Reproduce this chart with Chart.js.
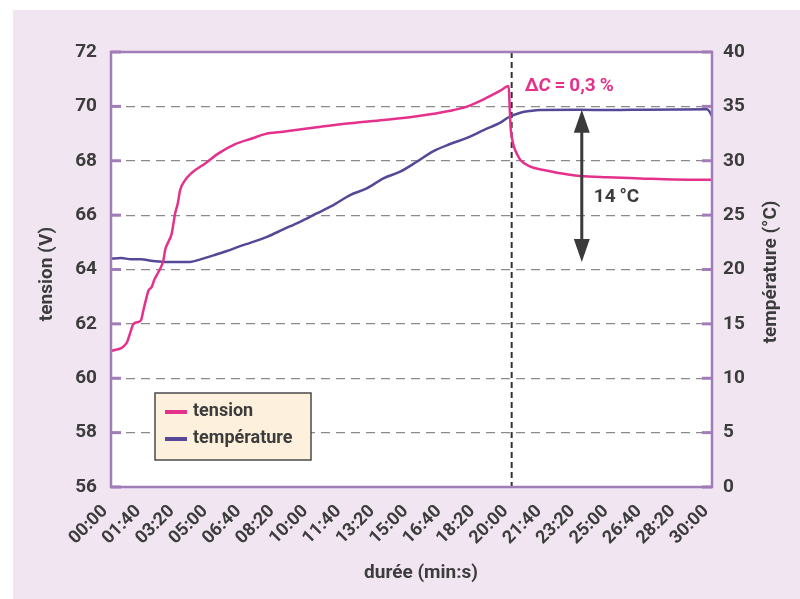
<!DOCTYPE html>
<html>
<head>
<meta charset="utf-8">
<script src="https://cdn.jsdelivr.net/npm/chart.js@4.4.1/dist/chart.umd.min.js"></script>
<style>
  html, body { margin: 0; padding: 0; background: #fff; }
  #bg { position: absolute; left: 13px; top: 10px; width: 787px; height: 589px; background: #f1e5f1; }
  #chart { position: absolute; left: 0; top: 0; }
</style>
</head>
<body>
<div id="bg"></div>
<canvas id="chart" width="800" height="599"></canvas>
<script>
// time in seconds, tension in V
const tensionTime = [0, 47, 57, 67, 82, 90, 97, 107, 112, 122, 130, 142, 157, 162, 172, 182, 187, 192, 200, 207,
  222, 242, 282, 322, 372, 422, 461, 516, 616, 716, 816, 916, 1016, 1066, 1116, 1166, 1191, 1194, 1197, 1200,
  1206, 1216, 1226, 1256, 1296, 1336, 1405, 1486, 1585, 1685, 1785, 1800];
const tensionValue = [61.0, 61.3, 61.65, 61.99, 62.07, 62.14, 62.5, 63.0, 63.22, 63.36, 63.63, 63.91, 64.34, 64.71, 65.02, 65.33, 65.69, 66.06, 66.43, 66.92,
  67.29, 67.56, 67.9, 68.27, 68.61, 68.82, 68.98, 69.07, 69.23, 69.38, 69.5, 69.64, 69.84, 69.99, 70.26, 70.58, 70.75, 70.0, 69.2, 68.9,
  68.55, 68.25, 68.03, 67.78, 67.66, 67.56, 67.44, 67.39, 67.35, 67.31, 67.3, 67.3];

// time in seconds, temperature in °C
const temperatureTime = [0, 30, 60, 90, 120, 160, 200, 237, 270, 307, 347, 387, 417, 467, 516, 566, 616, 666, 716, 766,
  816, 866, 916, 966, 1016, 1066, 1116, 1166, 1191, 1226, 1256, 1286, 1400, 1500, 1600, 1700, 1785, 1793, 1800];
const temperatureValue = [21.0, 21.05, 20.95, 20.95, 20.8, 20.7, 20.7, 20.7, 20.95, 21.3, 21.7, 22.15, 22.45, 23.0, 23.69, 24.39, 25.16, 25.92, 26.84, 27.46,
  28.38, 28.99, 29.91, 30.89, 31.54, 32.1, 32.82, 33.5, 34.0, 34.42, 34.58, 34.66, 34.68, 34.66, 34.7, 34.72, 34.73, 34.5, 34.1];

// annotations
const markerTime = 1200;
const arrowTime = 1410;
const arrowRange = [20.7, 34.7];
const arrowLabel = '14\u2009°C';
const labelTemp = 26.66;

const FONT = 'Roboto, "DejaVu Sans", sans-serif';
const TEXT = '#3c3c3c';
const PINK = '#e5318b';
const VIOLET = '#564897';
const FRAME = '#a07cb8';

function fmtTime(v) {
  const m = Math.floor(v / 60), s = Math.round(v % 60);
  return String(m).padStart(2, '0') + ':' + String(s).padStart(2, '0');
}

const decor = {
  id: 'decor',
  beforeDraw(chart) {
    const { ctx, chartArea: a } = chart;
    ctx.save();
    ctx.fillStyle = '#fff';
    ctx.fillRect(a.left, a.top, a.right - a.left, a.bottom - a.top);
    ctx.restore();
  },
  beforeDatasetsDraw(chart) {
    // dashed marker at 20:00
    const { ctx, chartArea: a, scales } = chart;
    const x = scales.x.getPixelForValue(markerTime);
    ctx.save();
    ctx.strokeStyle = '#333';
    ctx.lineWidth = 2;
    ctx.setLineDash([6, 4]);
    ctx.beginPath();
    ctx.moveTo(x, a.top);
    ctx.lineTo(x, a.bottom);
    ctx.stroke();
    ctx.restore();
  },
  afterDatasetsDraw(chart) {
    const { ctx, chartArea: a, scales } = chart;
    ctx.save();

    // frame
    ctx.strokeStyle = FRAME;
    ctx.lineWidth = 2.5;
    ctx.strokeRect(a.left, a.top, a.right - a.left, a.bottom - a.top);

    // tick stubs
    ctx.lineWidth = 3;
    scales.y.ticks.forEach(t => {
      const y = scales.y.getPixelForValue(t.value);
      ctx.beginPath(); ctx.moveTo(a.left, y); ctx.lineTo(a.left + 10, y); ctx.stroke();
    });
    scales.y1.ticks.forEach(t => {
      const y = scales.y1.getPixelForValue(t.value);
      ctx.beginPath(); ctx.moveTo(a.right - 10, y); ctx.lineTo(a.right, y); ctx.stroke();
    });

    // double arrow
    const ax = scales.x.getPixelForValue(arrowTime);
    const yTop = scales.y1.getPixelForValue(arrowRange[1]);
    const yBot = scales.y1.getPixelForValue(arrowRange[0]);
    ctx.strokeStyle = '#3a3a3a';
    ctx.fillStyle = '#3a3a3a';
    ctx.lineWidth = 3;
    ctx.beginPath(); ctx.moveTo(ax, yTop + 15); ctx.lineTo(ax, yBot - 15); ctx.stroke();
    ctx.beginPath(); ctx.moveTo(ax, yTop); ctx.lineTo(ax - 8, yTop + 23); ctx.lineTo(ax + 8, yTop + 23); ctx.closePath(); ctx.fill();
    ctx.beginPath(); ctx.moveTo(ax, yBot); ctx.lineTo(ax - 8, yBot - 23); ctx.lineTo(ax + 8, yBot - 23); ctx.closePath(); ctx.fill();

    ctx.font = 'bold 19px ' + FONT;
    ctx.fillStyle = TEXT;
    ctx.textAlign = 'left';
    ctx.textBaseline = 'middle';
    ctx.fillText(arrowLabel, ax + 12, scales.y1.getPixelForValue(labelTemp));

    // ΔC label
    let tx = scales.x.getPixelForValue(markerTime) + 13;
    const ty = scales.y.getPixelForValue(70.75);
    ctx.fillStyle = PINK;
    const parts = [['Δ', 'bold 19px '], ['C', 'italic bold 19px '], ['\u2009=\u20090,3\u2009%', 'bold 19px ']];
    parts.forEach(([s, f]) => {
      ctx.font = f + FONT;
      ctx.fillText(s, tx, ty);
      tx += ctx.measureText(s).width;
    });

    // legend box
    const lx = a.left + 44, ly = a.top + 341;
    ctx.fillStyle = '#fdf1dd';
    ctx.fillRect(lx, ly, 156, 67);
    ctx.strokeStyle = '#4a4a4a';
    ctx.lineWidth = 1.5;
    ctx.strokeRect(lx, ly, 156, 67);
    chart.data.datasets.forEach((ds, i) => {
      const y = ly + 19 + i * 27;
      ctx.strokeStyle = ds.borderColor;
      ctx.lineWidth = 4;
      ctx.beginPath(); ctx.moveTo(lx + 10, y); ctx.lineTo(lx + 32, y); ctx.stroke();
      ctx.font = 'bold 18px ' + FONT;
      ctx.fillStyle = TEXT;
      ctx.fillText(ds.label, lx + 38, y - 1);
    });

    ctx.restore();
  },
  afterDraw(chart) {
    const { ctx } = chart;
    ctx.save();
    ctx.font = 'bold 19px ' + FONT;
    ctx.fillStyle = TEXT;
    ctx.textAlign = 'center';
    ctx.textBaseline = 'middle';
    ctx.fillText('durée (min:s)', 421, 573);
    ctx.translate(47, 274);
    ctx.rotate(-Math.PI / 2);
    ctx.fillText('tension (V)', 0, 0);
    ctx.restore();
    ctx.save();
    ctx.font = 'bold 19px ' + FONT;
    ctx.fillStyle = TEXT;
    ctx.textAlign = 'center';
    ctx.textBaseline = 'middle';
    ctx.translate(771, 272);
    ctx.rotate(-Math.PI / 2);
    ctx.fillText('température (°C)', 0, 0);
    ctx.restore();
  }
};

const tickFont = { family: FONT, size: 19, weight: 'bold' };

new Chart(document.getElementById('chart'), {
  type: 'line',
  data: {
    datasets: [
      {
        label: 'tension',
        data: tensionTime.map((t, i) => ({ x: t, y: tensionValue[i] })),
        borderColor: PINK,
        borderWidth: 2.5,
        pointRadius: 0,
        cubicInterpolationMode: 'monotone',
        yAxisID: 'y'
      },
      {
        label: 'température',
        data: temperatureTime.map((t, i) => ({ x: t, y: temperatureValue[i] })),
        borderColor: VIOLET,
        borderWidth: 2.5,
        pointRadius: 0,
        cubicInterpolationMode: 'monotone',
        yAxisID: 'y1'
      }
    ]
  },
  options: {
    responsive: false,
    animation: false,
    devicePixelRatio: 1,
    layout: { padding: { top: 52, left: 0, right: 0, bottom: 0 } },
    plugins: {
      legend: { display: false },
      tooltip: { enabled: false }
    },
    scales: {
      x: {
        type: 'linear',
        min: 0,
        max: 1800,
        afterFit: s => { s.height = 112; },
        grid: { display: false },
        border: { display: false },
        ticks: {
          stepSize: 100,
          autoSkip: false,
          maxRotation: 45,
          minRotation: 45,
          padding: 6,
          labelOffset: -6,
          color: TEXT,
          font: { family: FONT, size: 18, weight: 'bold' },
          callback: v => fmtTime(v)
        }
      },
      y: {
        position: 'left',
        min: 56,
        max: 72,
        afterFit: s => { s.width = 111; },
        grid: { color: '#8a8a8a', lineWidth: 1.2, drawTicks: false },
        border: { display: false, dash: [9, 6] },
        ticks: { stepSize: 2, padding: 14, color: TEXT, font: tickFont }
      },
      y1: {
        position: 'right',
        min: 0,
        max: 40,
        afterFit: s => { s.width = 88; },
        grid: { display: false, drawTicks: false },
        border: { display: false },
        ticks: { stepSize: 5, padding: 11, color: TEXT, font: tickFont }
      }
    }
  },
  plugins: [decor]
});
</script>
</body>
</html>
